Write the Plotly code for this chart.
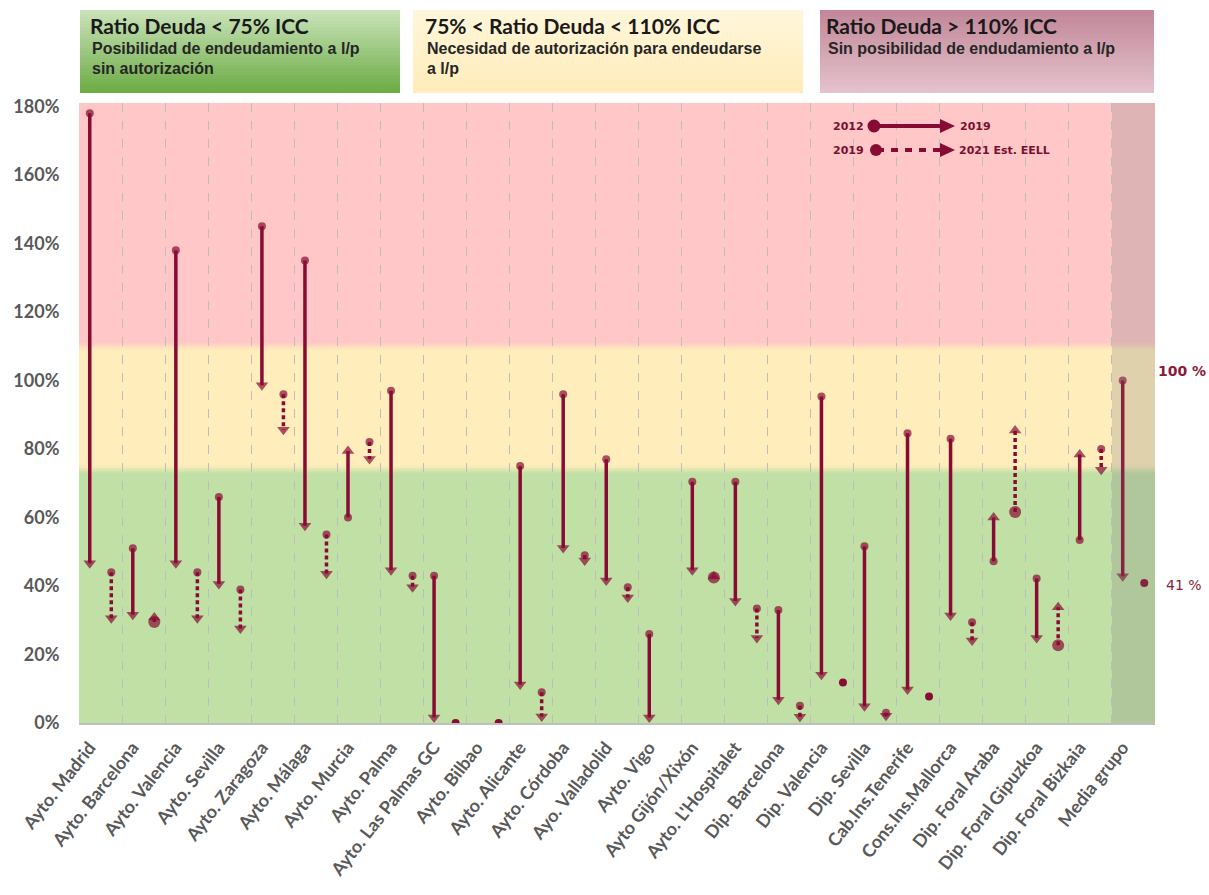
import plotly.graph_objects as go

# ---------------- data ----------------
categories = ["Ayto. Madrid", "Ayto. Barcelona", "Ayto. Valencia", "Ayto. Sevilla",
              "Ayto. Zaragoza", "Ayto. Málaga", "Ayto. Murcia", "Ayto. Palma",
              "Ayto. Las Palmas GC", "Ayto. Bilbao", "Ayto. Alicante", "Ayto. Córdoba",
              "Ayo. Valladolid", "Ayto. Vigo", "Ayto Gijón/Xixón", "Ayto. L'Hospitalet",
              "Dip. Barcelona", "Dip. Valencia", "Dip. Sevilla", "Cab.Ins.Tenerife",
              "Cons.Ins.Mallorca", "Dip. Foral Araba", "Dip. Foral Gipuzkoa",
              "Dip. Foral Bizkaia", "Media grupo"]
ratio_2012 = [178, 51, 138, 66, 145, 135, 60, 97, 43, None, 75, 96, 77, 26, 70.4, 70.4,
              33, 95.3, 51.6, 84.6, 83, 47.2, 42.2, 53.4, 100]
ratio_2019 = [45, 30, 45, 39, 97, 56, 81, 43, 0, None, 9.6, 49.5, 40, 0, 43, 34,
              5.2, 12.5, 3.3, 8.2, 29.8, 61.6, 23.2, 80, 41.2]
ratio_2019_est = [44, 29.5, 44, 39, 96, 55, 82, 43, 0, 0, 9, 49, 39.6, None, 42.5, 33.4,
                  5, 11.8, 3, 7.7, 29.4, 61.6, 22.7, 80, 40.9]
ratio_2021_est = [29, 32.4, 29, 26, 84, 42, 75.5, 38, 0, 0, 0.3, 45.8, 35, None, 44.4, 23.2,
                  0.2, 11.8, 0.5, 7.7, 22.5, 87, 35.4, 72.3, 40.9]
y_ticks = [0, 20, 40, 60, 80, 100, 120, 140, 160, 180]
band_limits = [74, 110]   # green < 75% ICC, yellow 75-110%, pink > 110%

# ---------------- layout constants ----------------
PLOT_L, PLOT_T, PW, PH = 79, 103, 1076, 620   # plot area in page pixels
W, H = 1209, 895
ML, MT = PLOT_L, PLOT_T
MR, MB = W - ML - PW, H - MT - PH
Y_MAX = 181
PX_PER_UNIT = PH / Y_MAX
COL = "#880B33"
LW = 3.5
HEAD = 11
HEAD_R = (HEAD / 2) / PX_PER_UNIT
N = len(categories)


def px_x(px):
    return (px - PLOT_L) / PW


def px_y(py):
    return (PLOT_T + PH - py) / PH


fig = go.Figure()


def add_arrow(x, y0, y1, dash, dot_size):
    if y0 is None:
        return
    if y1 is None or abs(y1 - y0) < 1e-9:
        fig.add_trace(go.Scatter(x=[x], y=[y0], mode="markers",
                                 marker=dict(size=dot_size, color=COL, line=dict(width=0)),
                                 hoverinfo="skip", showlegend=False))
        return
    down = y1 < y0
    yc = y1 + HEAD_R if down else y1 - HEAD_R
    fig.add_trace(go.Scatter(
        x=[x, x], y=[y0, yc], mode="lines+markers",
        line=dict(color=COL, width=LW, dash=dash),
        marker=dict(symbol=["circle", "triangle-down" if down else "triangle-up"],
                    size=[dot_size, HEAD], color=COL, line=dict(width=0)),
        hoverinfo="skip", showlegend=False))


for i in range(N):
    add_arrow(i - 0.25, ratio_2012[i], ratio_2019[i], "solid", 8)
    s, e = ratio_2019_est[i], ratio_2021_est[i]
    big = s is not None and e is not None and e > s
    add_arrow(i + 0.25, s, e, "4px,3px", 12 if big else 8)

shapes = []
pink, yellow, green = (255, 199, 199), (255, 237, 187), (192, 224, 166)


def rgb(c):
    return "rgb(%d,%d,%d)" % c


def mix(a, b, t):
    return tuple(round(a[k] + (b[k] - a[k]) * t) for k in range(3))


lo, hi = band_limits
shapes.append(dict(type="rect", xref="x", yref="y", x0=-0.5, x1=N - 0.5, y0=0, y1=Y_MAX,
                   fillcolor=rgb(pink), line=dict(width=0), layer="below"))
shapes.append(dict(type="rect", xref="x", yref="y", x0=-0.5, x1=N - 0.5, y0=0, y1=hi,
                   fillcolor=rgb(yellow), line=dict(width=0), layer="below"))
shapes.append(dict(type="rect", xref="x", yref="y", x0=-0.5, x1=N - 0.5, y0=0, y1=lo,
                   fillcolor=rgb(green), line=dict(width=0), layer="below"))
blur = 2.4
steps = 6
for (edge, ca, cb) in [(hi, yellow, pink), (lo, green, yellow)]:
    for k in range(steps):
        t = (k + 0.5) / steps
        shapes.append(dict(type="rect", xref="x", yref="y", x0=-0.5, x1=N - 0.5,
                           y0=edge - blur / 2 + k * blur / steps,
                           y1=edge - blur / 2 + (k + 1) * blur / steps + 0.1,
                           fillcolor=rgb(mix(ca, cb, t)), line=dict(width=0), layer="below"))

# grey overlay on the group average column
shapes.append(dict(type="rect", xref="x", yref="y", x0=N - 1.5, x1=N - 0.5, y0=0, y1=Y_MAX,
                   fillcolor="rgba(120,120,120,0.24)", line=dict(width=0), layer="above"))


# header boxes with vertical gradients (stacked strips, no seams)
def grad_box(x0, x1, y0, y1, ctop, cbot, n=24):
    for k in range(n):
        t = k / (n - 1)
        shapes.append(dict(type="rect", xref="paper", yref="paper",
                           x0=px_x(x0), x1=px_x(x1),
                           y0=px_y(y1),
                           y1=px_y(y0 + (y1 - y0) * k / n),
                           fillcolor=rgb(mix(ctop, cbot, t)), line=dict(width=0)))


grad_box(80, 400, 10, 93, (200, 226, 184), (110, 172, 70))
grad_box(413, 803, 10, 93, (255, 246, 218), (255, 236, 186))
grad_box(820, 1154, 10, 93, (194, 136, 153), (228, 193, 204))

# legend drawing (top right of plot)
ly1, ly2 = 126, 150
shapes.append(dict(type="line", xref="paper", yref="paper", x0=px_x(874), x1=px_x(944),
                   y0=px_y(ly1), y1=px_y(ly1), line=dict(color=COL, width=4)))
shapes.append(dict(type="circle", xref="paper", yref="paper", x0=px_x(867.5), x1=px_x(880.5),
                   y0=px_y(ly1 + 6.5), y1=px_y(ly1 - 6.5), fillcolor=COL, line=dict(width=0)))
shapes.append(dict(type="path", xref="paper", yref="paper",
                   path="M%f,%f L%f,%f L%f,%f Z" % (px_x(955), px_y(ly1), px_x(940), px_y(ly1 - 7),
                                                   px_x(940), px_y(ly1 + 7)),
                   fillcolor=COL, line=dict(width=0)))
shapes.append(dict(type="line", xref="paper", yref="paper", x0=px_x(877), x1=px_x(944),
                   y0=px_y(ly2), y1=px_y(ly2), line=dict(color=COL, width=4, dash="7px,7px")))
shapes.append(dict(type="circle", xref="paper", yref="paper", x0=px_x(870), x1=px_x(882),
                   y0=px_y(ly2 + 6), y1=px_y(ly2 - 6), fillcolor=COL, line=dict(width=0)))
shapes.append(dict(type="path", xref="paper", yref="paper",
                   path="M%f,%f L%f,%f L%f,%f Z" % (px_x(955), px_y(ly2), px_x(940), px_y(ly2 - 7),
                                                   px_x(940), px_y(ly2 + 7)),
                   fillcolor=COL, line=dict(width=0)))

ann = []
TITLE_FONT = dict(family="Lato", size=21, color="#1a1a1a", weight="bold")
SUB_FONT = dict(family="Liberation Sans", size=16, color="#262626", weight="bold")


def txt(x, y, text, font, xanchor="left"):
    ann.append(dict(xref="paper", yref="paper", x=px_x(x), y=px_y(y), text=text,
                    showarrow=False, xanchor=xanchor, yanchor="middle", font=font))


txt(88, 25, "Ratio Deuda < 75% ICC", TITLE_FONT)
txt(90, 48, "Posibilidad de endeudamiento a l/p", SUB_FONT)
txt(90, 69, "sin autorización", SUB_FONT)
txt(423, 25, "75% < Ratio Deuda < 110% ICC", TITLE_FONT)
txt(425, 48, "Necesidad de autorización para endeudarse", SUB_FONT)
txt(425, 69, "a l/p", SUB_FONT)
txt(824, 25, "Ratio Deuda > 110% ICC", TITLE_FONT)
txt(826, 48, "Sin posibilidad de endudamiento a l/p", SUB_FONT)

LEG_FONT = dict(family="DejaVu Sans", size=11, color="#7a1030", weight="bold")
txt(866, ly1, "2012", LEG_FONT, "right")
txt(958, ly1, "2019", LEG_FONT)
txt(866, ly2, "2019", LEG_FONT, "right")
txt(957, ly2, "2021 Est. EELL", LEG_FONT)

# value labels for the group average
ann.append(dict(xref="paper", yref="y", x=px_x(1182), y=ratio_2012[-1], yshift=9,
                text="%d %%" % round(ratio_2012[-1]), showarrow=False, xanchor="center",
                font=dict(family="DejaVu Sans", size=14, color="#8B1A3A", weight="bold")))
ann.append(dict(xref="paper", yref="y", x=px_x(1184), y=ratio_2019[-1], yshift=-3,
                text="%d %%" % round(ratio_2021_est[-1]), showarrow=False, xanchor="center",
                font=dict(family="DejaVu Sans", size=14, color="#8B1A3A")))

fig.update_layout(
    width=W, height=H, margin=dict(l=ML, r=MR, t=MT, b=MB),
    paper_bgcolor="white", plot_bgcolor="white",
    shapes=shapes, annotations=ann, showlegend=False,
    xaxis=dict(range=[-0.5, N - 0.5], tickmode="array", tickvals=list(range(N)),
               ticktext=categories, tickangle=-52, showgrid=False, zeroline=False,
               showline=True, linecolor="#BFBFBF", linewidth=2,
               ticks="outside", ticklen=5, tickcolor="rgba(0,0,0,0)",
               ticklabelshift=-11,
               tickfont=dict(family="Lato", size=18, color="#595959", weight="bold"),
               minor=dict(tickvals=[k + 0.5 for k in range(-1, N)], showgrid=True,
                          gridcolor="#BDBDBD", griddash="dash", gridwidth=1, ticks=""),
               fixedrange=True),
    yaxis=dict(range=[0, Y_MAX], tickmode="array", tickvals=y_ticks,
               ticktext=["%d%%" % v for v in y_ticks], showgrid=False, zeroline=False,
               showline=False, ticks="outside", ticklen=15, tickcolor="rgba(0,0,0,0)",
               tickfont=dict(family="Lato", size=18, color="#595959", weight="bold"),
               fixedrange=True),
)

fig.write_html("out.html",
               config={"displayModeBar": False},
               post_script="document.body.style.margin='0px';"
                           "document.body.style.overflow='hidden';")
